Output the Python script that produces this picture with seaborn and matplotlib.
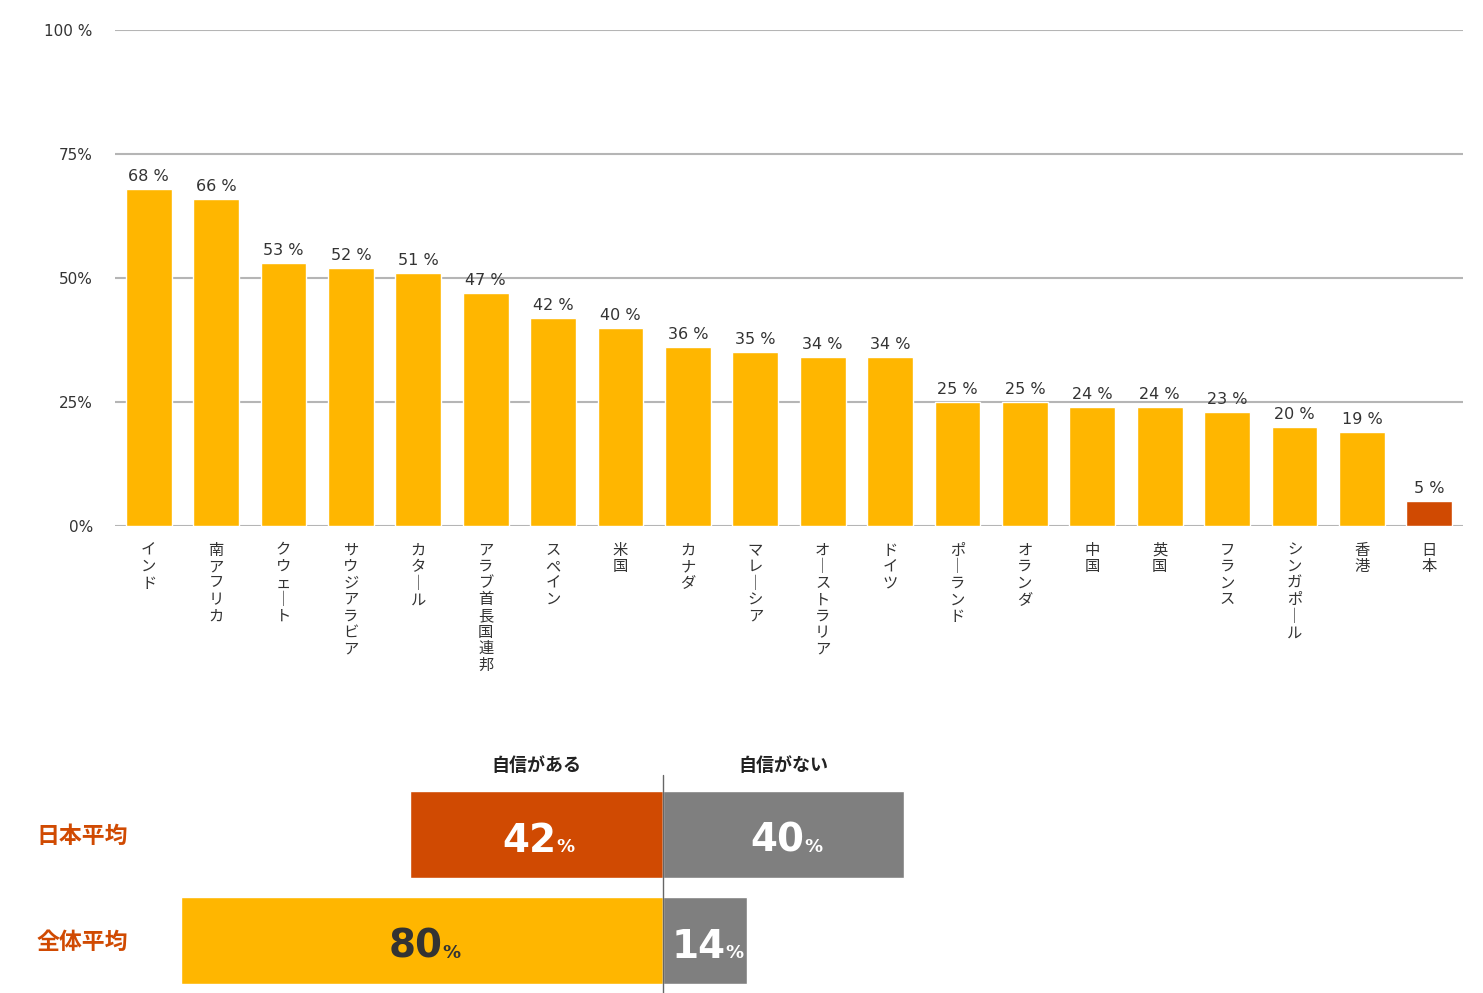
import matplotlib
matplotlib.use("Agg")
import matplotlib.pyplot as plt
import seaborn as sns
import pandas as pd

# ---- data ----
countries = ["インド", "南アフリカ", "クウェート", "サウジアラビア", "カタール", "アラブ首長国連邦",
             "スペイン", "米国", "カナダ", "マレーシア", "オーストラリア", "ドイツ", "ポーランド",
             "オランダ", "中国", "英国", "フランス", "シンガポール", "香港", "日本"]
values = [68, 66, 53, 52, 51, 47, 42, 40, 36, 35, 34, 34, 25, 25, 24, 24, 23, 20, 19, 5]
ytick_vals = [0, 25, 50, 75, 100]
ytick_labels = ["0%", "25%", "50%", "75%", "100 %"]

rows = ["日本平均", "全体平均"]
confident = [42, 80]
not_confident = [40, 14]
headers = ["自信がある", "自信がない"]

ORANGE = "#FFB600"
RED = "#D04A02"
GREY = "#7F7F7F"
TEXT = "#333333"

sns.set_theme(style="white")
plt.rcParams["font.family"] = ["DejaVu Sans", "Noto Sans CJK JP"]

W, H = 1483, 993
fig = plt.figure(figsize=(W / 100, H / 100), dpi=100)

# ---------------- top bar chart ----------------
ax = fig.add_axes([115 / W, 1 - 526 / H, (1463 - 115) / W, (526 - 30) / H])
df = pd.DataFrame({"country": countries, "value": values})
palette = {c: (RED if c == "日本" else ORANGE) for c in countries}
sns.barplot(data=df, x="country", y="value", hue="country", palette=palette,
            width=0.68, legend=False, errorbar=None, saturation=1, ax=ax)
ax.set_xlim(-0.5, len(countries) - 0.5)
ax.set_ylim(0, 100)
ax.set_yticks(ytick_vals)
ax.set_yticklabels(ytick_labels)
ax.set_axisbelow(True)
ax.yaxis.grid(True, color="#B5B5B5", lw=1.5)
ax.xaxis.grid(False)
for s in ax.spines.values():
    s.set_visible(False)
ax.set_xlabel("")
ax.set_ylabel("")

def vertical(s):
    return "\n".join("｜" if ch == "ー" else ch for ch in s)

ax.set_xticks(range(len(countries)))
ax.set_xticklabels([vertical(c) for c in countries], fontsize=11, color=TEXT,
                   linespacing=1.12, va="top")
ax.tick_params(axis="x", length=0, pad=12)
ax.tick_params(axis="y", length=0, pad=16, labelsize=11, labelcolor=TEXT)
for lbl in ax.get_yticklabels():
    lbl.set_ha("right")

for i, v in enumerate(values):
    ax.text(i, v + 1.0, f"{v} %", ha="center", va="bottom", fontsize=11.5, color=TEXT)

# ---------------- bottom diverging chart ----------------
scale = 6.03  # px per percent
cx = 663
bx = fig.add_axes([0, 0, 1, (H - 750) / H])
y_top = -(834.5 - 750) / 106
y_bot = 1 + (993 - 940.5) / 106

bdf = pd.DataFrame({"row": rows, "conf": [-c for c in confident], "notconf": not_confident})
sns.barplot(data=bdf, x="conf", y="row", hue="row", palette={rows[0]: RED, rows[1]: ORANGE},
            orient="h", width=0.82, legend=False, errorbar=None, saturation=1, ax=bx)
sns.barplot(data=bdf, x="notconf", y="row", hue="row", palette={rows[0]: GREY, rows[1]: GREY},
            orient="h", width=0.82, legend=False, errorbar=None, saturation=1, ax=bx)
bx.set_xlim(-cx / scale, (W - cx) / scale)
bx.set_ylim(y_bot, y_top)
bx.axis("off")

bx.plot([0, 0], [y_top + 25 / 106, y_bot], color="#666666", lw=1, zorder=5)

# headers
bx.text(-confident[0] / 2, y_top + 16 / 106, headers[0], ha="center", va="center",
        fontsize=13, fontweight="bold", color="#222222")
bx.text(not_confident[0] / 2, y_top + 16 / 106, headers[1], ha="center", va="center",
        fontsize=13, fontweight="bold", color="#222222")

# row labels
for i, r in enumerate(rows):
    bx.text((82 - cx) / scale, i + 0.02, r, ha="center", va="center",
            fontsize=16.5, fontweight="bold", color=RED)

def value_label(xc, y, v, color):
    off = 3.4
    bx.text(xc + off, y + 0.165, f"{v}", ha="right", va="baseline",
            fontsize=28, fontweight="bold", color=color, zorder=6)
    bx.text(xc + off, y + 0.165, "%", ha="left", va="baseline",
            fontsize=13, fontweight="bold", color=color, zorder=6)

for i in range(len(rows)):
    value_label(-confident[i] / 2, i, confident[i], "white" if i == 0 else TEXT)
    value_label(not_confident[i] / 2, i, not_confident[i], "white")

fig.savefig("out.png", dpi=100, facecolor="white")
